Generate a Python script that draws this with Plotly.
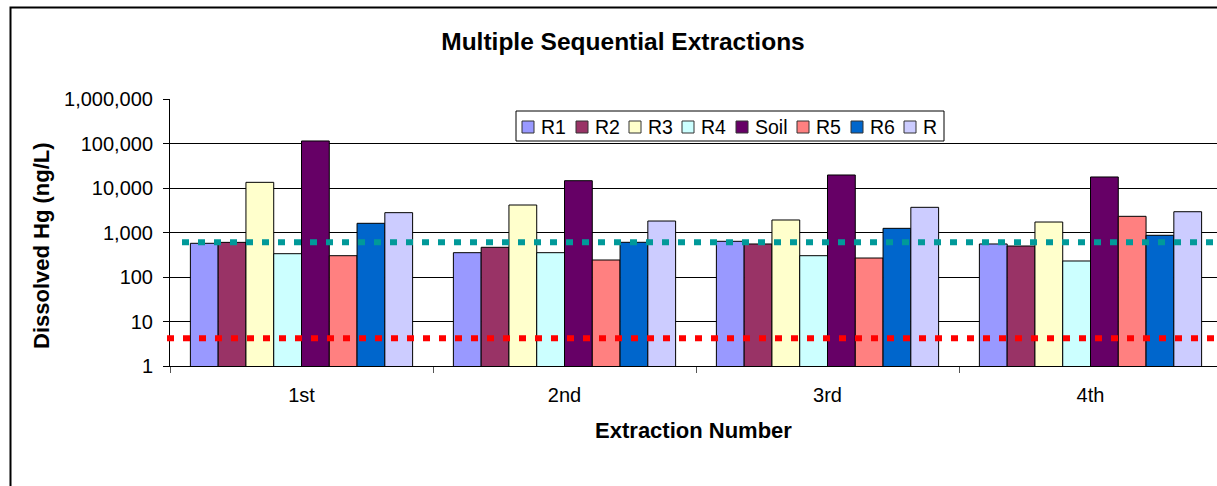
import plotly.graph_objects as go

# ---------------- data ----------------
categories = ["1st", "2nd", "3rd", "4th"]
series_names = ["R1", "R2", "R3", "R4", "Soil", "R5", "R6", "R"]
series_colors = ["#9999FF", "#993366", "#FFFFCC", "#CCFFFF", "#660066", "#FF8080", "#0066CC", "#CCCCFF"]

R1 = [572, 352, 634, 552]
R2 = [600, 465, 552, 497]
R3 = [13400, 4150, 1910, 1720]
R4 = [334, 352, 301, 229]
Soil = [114000, 14600, 19600, 17700]
R5 = [301, 241, 267, 2310]
R6 = [1610, 602, 1240, 865]
R = [2790, 1810, 3680, 2930]
series_values = [R1, R2, R3, R4, Soil, R5, R6, R]

teal_level = 600
red_level = 4.2

y_tickvals = [1, 10, 100, 1000, 10000, 100000, 1000000]
y_ticktext = ["1", "10", "100", "1,000", "10,000", "100,000", "1,000,000"]

# ---------------- layout constants ----------------
W, H = 1217, 486
PL, PR, PT, PB = 170, 0, 99, 120  # plot area margins (px)
PW = W - PL - PR
PH = H - PT - PB
FONT = "Liberation Sans, Arial, sans-serif"


def px_x(x):
    return (x - PL) / PW


def px_y(y):
    return (H - PB - y) / PH


fig = go.Figure()
for name, color, vals in zip(series_names, series_colors, series_values):
    fig.add_trace(go.Bar(
        x=categories, y=vals, name=name,
        marker=dict(color=color, line=dict(color="#000000", width=1)),
        showlegend=False,
    ))

shapes = []
# reference dotted lines
shapes.append(dict(type="line", xref="paper", yref="y", x0=px_x(182), x1=1.0,
                   y0=teal_level, y1=teal_level, layer="above",
                   line=dict(color="#009999", width=6, dash="7px,9px")))
shapes.append(dict(type="line", xref="paper", yref="y", x0=px_x(167), x1=1.0,
                   y0=red_level, y1=red_level, layer="above",
                   line=dict(color="#FF0000", width=6, dash="7px,9px")))
# outer chart frame (top and left)
shapes.append(dict(type="path", xref="paper", yref="paper",
                   path=f"M {px_x(10.5)} {px_y(490)} L {px_x(10.5)} {px_y(7.5)} L {px_x(1220)} {px_y(7.5)}",
                   line=dict(color="#000000", width=2), layer="above"))

annotations = []
# y axis title
annotations.append(dict(text="<b>Dissolved Hg (ng/L)</b>", xref="paper", yref="paper",
                        x=px_x(41), y=px_y(246), xanchor="center", yanchor="middle",
                        textangle=-90, showarrow=False,
                        font=dict(family=FONT, size=22, color="#000000")))
# manual legend
shapes.append(dict(type="rect", xref="paper", yref="paper",
                   x0=px_x(516), x1=px_x(944), y0=px_y(111), y1=px_y(141),
                   line=dict(color="#000000", width=1), fillcolor="#FFFFFF", layer="above"))
legend_x = [522, 576, 629, 682, 736, 797, 851, 904]
for lx, name, color in zip(legend_x, series_names, series_colors):
    shapes.append(dict(type="rect", xref="paper", yref="paper",
                       x0=px_x(lx), x1=px_x(lx + 12), y0=px_y(121), y1=px_y(133),
                       line=dict(color="#333333", width=1), fillcolor=color, layer="above"))
    annotations.append(dict(text=name, xref="paper", yref="paper",
                            x=px_x(lx + 17), y=px_y(127), xanchor="left", yanchor="middle",
                            showarrow=False, font=dict(family=FONT, size=19.5, color="#000000")))

fig.update_layout(
    width=W, height=H,
    margin=dict(l=PL, r=PR, t=PT, b=PB, pad=0),
    paper_bgcolor="#FFFFFF", plot_bgcolor="#FFFFFF",
    barmode="group", bargap=0.155, bargroupgap=0,
    font=dict(family=FONT, size=20, color="#000000"),
    title=dict(text="<b>Multiple Sequential Extractions</b>", x=623 / W, xref="container",
               xanchor="center", y=1 - 41 / H, yref="container", yanchor="middle",
               font=dict(family=FONT, size=24.5, color="#000000")),
    shapes=shapes,
    annotations=annotations,
    showlegend=False,
)

fig.update_xaxes(
    type="category", range=[-0.5, -0.5 + PW / 263],
    showline=True, linecolor="#000000", linewidth=1,
    ticks="outside", tickson="boundaries", ticklen=6, tickcolor="#555555",
    ticklabelstandoff=11,
    tickfont=dict(family=FONT, size=20, color="#000000"),
    showgrid=False, zeroline=False,
    title=dict(text="<b>Extraction Number</b>", standoff=17,
               font=dict(family=FONT, size=22, color="#000000")),
)
fig.update_yaxes(
    type="log", range=[0, 6],
    tickvals=y_tickvals, ticktext=y_ticktext,
    showline=True, linecolor="#000000", linewidth=1,
    ticks="outside", ticklen=6, tickcolor="#000000",
    ticklabelstandoff=6,
    tickfont=dict(family=FONT, size=20, color="#000000"),
    showgrid=True, gridcolor="#000000", gridwidth=1,
    zeroline=False,
)

fig.write_html("out.html")
